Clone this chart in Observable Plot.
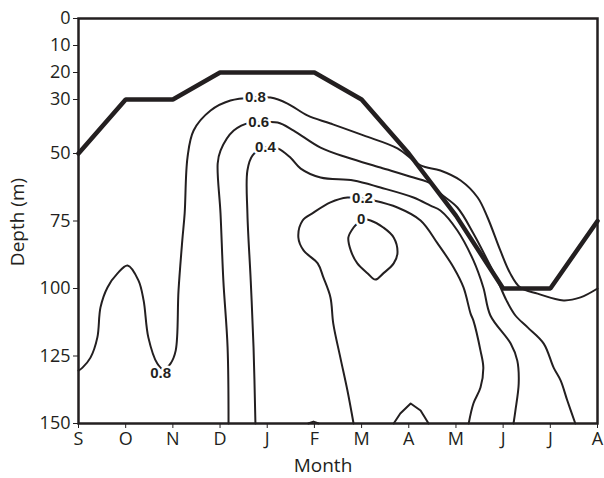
<!DOCTYPE html>
<html>
<head>
<meta charset="utf-8">
<script src="https://cdn.jsdelivr.net/npm/d3@7"></script>
<script src="https://cdn.jsdelivr.net/npm/@observablehq/plot@0.6"></script>
<style>
  html, body { margin: 0; padding: 0; background: #fff; }
</style>
</head>
<body>
<div id="chart"></div>
<script>
// Month axis (index 0 = September ... 11 = August)
const months = ["S", "O", "N", "D", "J", "F", "M", "A", "M", "J", "J", "A"];
const depthTicks = [0, 10, 20, 30, 50, 75, 100, 125, 150];

// Thick line: depth (m) for each month
const mldDepth = [50, 30, 30, 20, 20, 20, 30, 50, 73, 100, 100, 75];

// Contour lines: [month index, depth]
const c08 = [[0,130.4],[0.085,129.3],[0.254,125.6],[0.40,118.1],[0.466,107],[0.614,99.6],[0.827,94.4],[1.04,91.5],[1.27,97],[1.38,104.4],[1.48,118.1],[1.67,127.8],[1.8,130],[1.95,127.8],[2.06,123],[2.12,100.7],[2.20,82.2],[2.25,72.2],[2.31,51.5],[2.44,41.5],[2.80,34.1],[3.22,30.4],[3.75,29.3],[4.07,29.3],[4.43,31.5],[4.85,35.9],[5.34,38.9],[6.04,43.3],[6.76,48.1],[7.25,54.4],[7.67,56.3],[8.10,60],[8.46,66.3],[8.67,73.7],[8.94,85.9],[9.15,94.4],[9.36,99.6],[9.73,101.9],[10.28,104.4],[10.64,103.3],[11,100]];
const c06 = [[3.18,150],[3.16,121.9],[3.07,97],[3.01,72.2],[2.95,53.7],[3.01,48.9],[3.29,41.5],[3.65,38.5],[3.82,38.5],[4.22,38.5],[4.56,41.5],[5.13,47.8],[5.70,51.5],[6.40,55.2],[7.10,58.9],[7.46,61.1],[7.67,64.8],[8.03,70],[8.37,79.6],[8.67,89.6],[8.88,97],[9.07,104.4],[9.26,110],[9.52,114.4],[9.86,120.4],[10.07,129.3],[10.22,134.1],[10.36,141.5],[10.53,150]];
const c04 = [[3.75,150],[3.71,121.9],[3.65,97],[3.58,72.2],[3.58,56.3],[3.69,50.7],[3.96,47.8],[4.22,48.1],[4.49,51.5],[4.71,55.6],[5.13,58.9],[5.83,60],[6.40,62.6],[7.10,66.3],[7.46,69.3],[7.67,71.1],[8.03,78.5],[8.37,89.6],[8.58,99.6],[8.73,110],[9.16,120.4],[9.30,126.7],[9.33,135.2],[9.26,145.2],[9.22,150]];
const c02 = [[5.83,150],[5.70,137.8],[5.55,125.6],[5.40,113],[5.34,103.3],[5.19,95.9],[5.07,90.7],[4.77,85.9],[4.66,81.1],[4.75,74.8],[4.98,71.9],[5.34,68.1],[5.70,66.3],[6.02,66.7],[6.25,67.4],[6.76,70],[7.25,74.8],[7.61,83.3],[7.95,92.2],[8.16,99.6],[8.31,109.3],[8.37,111.9],[8.52,123],[8.58,129.3],[8.52,136.7],[8.37,142.6],[8.27,150]];
const c00loop = [[6.02,74.4],[6.19,74.8],[6.46,77.4],[6.68,81.1],[6.76,87],[6.68,90.7],[6.46,94.4],[6.29,96.7],[6.13,94.4],[5.91,90.7],[5.77,85.9],[5.72,81.1],[5.83,77.4],[5.93,75.6]];
const c00bump = [[6.68,150],[6.82,146.3],[7.04,142.6],[7.25,145.2],[7.42,150]];
const cTiny = [[4.87,150],[4.98,149.3],[5.09,150]];

// Contour labels
const labelText = ["0.8", "0.6", "0.4", "0.2", "0", "0.8"];
const labelMonth = [3.75, 3.82, 3.96, 6.02, 5.99, 1.74];
const labelDepth = [29.3, 38.5, 47.8, 66.7, 74.4, 131.5];

const ink = "#231f20";
const toRows = (id, pts) => pts.map(([m, d]) => ({id, m, d}));
const smoothRows = [
  ...toRows("0.8", c08), ...toRows("0.6", c06), ...toRows("0.4", c04), ...toRows("0.2", c02)
];
const loopRows = toRows("0", c00loop);
const sharpRows = [...toRows("0b", c00bump), ...toRows("t", cTiny)];
const mldRows = mldDepth.map((d, i) => ({m: i, d}));
const labels = labelText.map((t, i) => ({t, m: labelMonth[i], d: labelDepth[i]}));

const chart = Plot.plot({
  width: 604,
  height: 478,
  marginLeft: 78,
  marginRight: 7,
  marginTop: 18,
  marginBottom: 55,
  style: {fontFamily: "'Open Sans', sans-serif", fontSize: "18px", color: ink, background: "#fff"},
  x: {domain: [0, 11], label: null},
  y: {domain: [0, 150], reverse: true, label: null},
  marks: [
    Plot.line(smoothRows, {x: "m", y: "d", z: "id", curve: "catmull-rom", stroke: ink, strokeWidth: 2}),
    Plot.line(loopRows, {x: "m", y: "d", curve: "catmull-rom-closed", stroke: ink, strokeWidth: 2}),
    Plot.line(sharpRows, {x: "m", y: "d", z: "id", stroke: ink, strokeWidth: 2}),
    Plot.line(mldRows, {x: "m", y: "d", stroke: ink, strokeWidth: 4.5, strokeLinejoin: "miter"}),
    Plot.text(labels, {x: "m", y: "d", text: "t", fill: ink, stroke: "white", strokeWidth: 5,
      fontWeight: "bold", fontSize: 15, fontFamily: "'Liberation Sans', Arial, sans-serif"}),
    Plot.frame({stroke: ink, strokeWidth: 2.5}),
    Plot.axisX({ticks: d3.range(12), tickFormat: i => months[i], tickSize: 5, tickPadding: 4, label: null, stroke: ink}),
    Plot.axisY({ticks: depthTicks, tickSize: 5, tickPadding: 3, label: null, stroke: ink})
  ]
});

const svg = d3.select(chart);
svg.append("text")
  .attr("x", 323).attr("y", 472)
  .attr("text-anchor", "middle")
  .attr("font-size", 19)
  .attr("fill", ink)
  .text("Month");
svg.append("text")
  .attr("transform", "translate(24,222) rotate(-90)")
  .attr("text-anchor", "middle")
  .attr("font-size", 19)
  .attr("fill", ink)
  .text("Depth (m)");

document.getElementById("chart").appendChild(chart);
</script>
</body>
</html>
